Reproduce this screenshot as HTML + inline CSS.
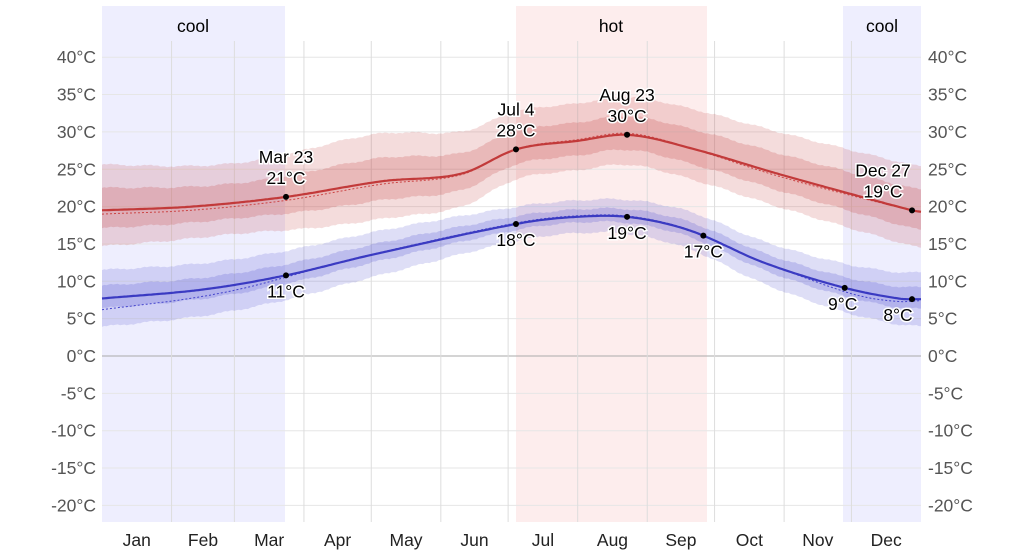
<!DOCTYPE html>
<html><head><meta charset="utf-8"><style>
html,body{margin:0;padding:0;background:#fff;width:1024px;height:553px;overflow:hidden}
text{font-family:"Liberation Sans",sans-serif}
</style></head><body>
<svg id="s" width="1024" height="553" xmlns="http://www.w3.org/2000/svg"></svg>
<script>
const S=document.getElementById('s');
const X0=102,X1=921,ppd=(X1-X0)/365;
const xd=d=>X0+d*ppd, yt=t=>356-t*7.47;
let h='';
h+=`<rect x="102" y="6" width="183" height="516" fill="#eeeefe"/>`;
h+=`<rect x="516" y="6" width="191" height="516" fill="#fdeded"/>`;
h+=`<rect x="843" y="6" width="78" height="516" fill="#eeeefe"/>`;
for(let t=-20;t<=40;t+=5){const y=yt(t);
 h+=`<line x1="102" x2="921" y1="${y}" y2="${y}" stroke="${t==0?'#aaa':'#e6e6e6'}" stroke-width="1"/>`;
 h+=`<text x="96" y="${y+6}" text-anchor="end" font-size="17.5" fill="#555">${t}°C</text>`;
 h+=`<text x="928" y="${y+6}" font-size="17.5" fill="#555">${t}°C</text>`;}
const mstart=[0,31,59,90,120,151,181,212,243,273,304,334,365];
const mn=['Jan','Feb','Mar','Apr','May','Jun','Jul','Aug','Sep','Oct','Nov','Dec'];
for(let i=1;i<12;i++){const x=xd(mstart[i]);h+=`<line x1="${x}" x2="${x}" y1="41" y2="522" stroke="#ddd"/>`;}
for(let i=0;i<12;i++){const x=xd((mstart[i]+mstart[i+1])/2);h+=`<text x="${x}" y="546" text-anchor="middle" font-size="17.5" fill="#222">${mn[i]}</text>`;}
h+=`<text x="193" y="32" text-anchor="middle" font-size="17.5">cool</text>`;
h+=`<text x="611" y="32" text-anchor="middle" font-size="17.5">hot</text>`;
h+=`<text x="882" y="32" text-anchor="middle" font-size="17.5">cool</text>`;
function interp(k,d){
 let i=0;while(i<k.length-2&&d>k[i+1][0])i++;
 const p0=k[Math.max(i-1,0)],p1=k[i],p2=k[i+1],p3=k[Math.min(i+2,k.length-1)];
 const t=(d-p1[0])/(p2[0]-p1[0]);
 const m1=(p2[1]-p0[1])/(p2[0]-p0[0]||1)*(p2[0]-p1[0]);
 const m2=(p3[1]-p1[1])/(p3[0]-p1[0]||1)*(p2[0]-p1[0]);
 const t2=t*t,t3=t2*t;
 return (2*t3-3*t2+1)*p1[1]+(t3-2*t2+t)*m1+(-2*t3+3*t2)*p2[1]+(t3-t2)*m2;}
const hi=[[0,19.5],[40,20],[82,21.3],[125,23.4],[160,24.4],[185,27.7],[212,28.8],[235,29.6],[265,27.6],[300,24.5],[330,22],[361,19.5],[365,19.3]];
const lo=[[0,7.7],[45,8.9],[82,10.8],[121,13.6],[185,17.7],[210,18.6],[235,18.6],[262,16.8],[295,12.5],[330,9.2],[355,7.7],[365,7.6]];
const hiSp=[[0,6],[60,5.2],[120,6.3],[185,5],[235,5],[300,5.5],[365,6]];
function band(k,up,dn,sp){let top=[],bot=[];for(let d=0;d<=365;d+=1){const m=interp(k,d),s=interp(sp,d),w=Math.sin(d*2.1)*0.06+Math.sin(d*0.37)*0.1;top.push([xd(d),yt(m+s*up+w)]);bot.push([xd(d),yt(m-s*dn+w)]);}
 return 'M'+top.map(p=>p[0].toFixed(1)+','+p[1].toFixed(1)).join('L')+'L'+bot.reverse().map(p=>p[0].toFixed(1)+','+p[1].toFixed(1)).join('L')+'Z';}
h+=`<path d="${band(hi,1.02,0.8,hiSp)}" fill="rgba(200,80,80,0.2)"/>`;
h+=`<path d="${band(hi,0.5,0.4,hiSp)}" fill="rgba(200,80,80,0.25)"/>`;
const loSp=[[0,3.8],[120,3],[200,2.2],[260,2.5],[365,3.6]];
h+=`<path d="${band(lo,1,1,loSp)}" fill="rgba(90,90,210,0.2)"/>`;
h+=`<path d="${band(lo,0.45,0.35,loSp)}" fill="rgba(90,90,210,0.25)"/>`;
function line(k,off){let p=[];for(let d=0;d<=365;d++){const o=off?interp(off,d):0;p.push(xd(d).toFixed(1)+','+yt(interp(k,d)+o).toFixed(1));}return 'M'+p.join('L');}
const hOff=[[0,-0.5],[120,-0.4],[180,0],[235,0.2],[300,-0.3],[365,0]];
const lOff=[[0,-1.5],[60,-0.7],[100,0],[300,0],[340,-0.6],[365,-0.2]];
h+=`<path d="${line(hi,hOff)}" fill="none" stroke="#c44" stroke-width="1" stroke-dasharray="2,2"/>`;
h+=`<path d="${line(lo,lOff)}" fill="none" stroke="#44c" stroke-width="1" stroke-dasharray="2,2"/>`;
h+=`<path d="${line(hi)}" fill="none" stroke="#c23a3a" stroke-width="2.2"/>`;
h+=`<path d="${line(lo)}" fill="none" stroke="#3a3ac2" stroke-width="2.2"/>`;
function pt(d,k,l1,l2,above,dx){dx=dx||0;const x=xd(d),y=yt(interp(k,d));h+=`<circle cx="${x}" cy="${y}" r="3" fill="#000"/>`;
 const st='font-size="17.5" text-anchor="middle" stroke="#fff" stroke-width="3" paint-order="stroke" fill="#000"';
 if(above){h+=`<text x="${x+dx}" y="${y-34}" ${st}>${l1}</text><text x="${x+dx}" y="${y-13}" ${st}>${l2}</text>`;}
 else{h+=`<text x="${x+dx}" y="${y+22}" ${st}>${l1}</text>`;}}
pt(82,hi,'Mar 23','21°C',true);pt(184.5,hi,'Jul 4','28°C',true);pt(234,hi,'Aug 23','30°C',true);pt(361,hi,'Dec 27','19°C',true,-29);
pt(82,lo,'11°C','',false);pt(184.5,lo,'18°C','',false);pt(234,lo,'19°C','',false);pt(268,lo,'17°C','',false);pt(331,lo,'9°C','',false,-2);pt(361,lo,'8°C','',false,-14);
S.innerHTML=h;
</script>
</body></html>
